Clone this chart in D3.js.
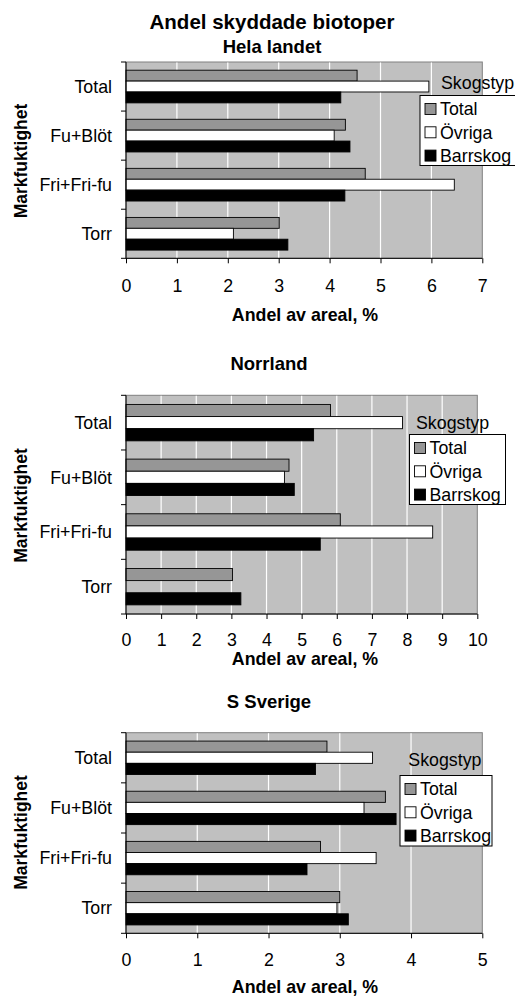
<!DOCTYPE html>
<html>
<head>
<meta charset="utf-8">
<script src="https://cdn.jsdelivr.net/npm/d3@7"></script>
<style>
  body { margin: 0; background: #fff; }
  svg text { font-family: "Liberation Sans", Arial, sans-serif; fill: #000; }
</style>
</head>
<body>
<svg id="chart" width="515" height="998"></svg>
<script>
// カテゴリと系列
const categories = ["Total", "Fu+Blöt", "Fri+Fri-fu", "Torr"];
const seriesNames = ["Total", "Övriga", "Barrskog"];
const seriesColors = ["#969696", "#ffffff", "#000000"];

// Hela landet
const helaTotal = [4.54, 4.31, 4.70, 3.01];
const helaOvriga = [5.95, 4.09, 6.45, 2.11];
const helaBarrskog = [4.22, 4.40, 4.30, 3.18];
const helaTicks = [0, 1, 2, 3, 4, 5, 6, 7];

// Norrland (Övriga saknas för Torr)
const norrTotal = [5.82, 4.64, 6.10, 3.03];
const norrOvriga = [7.87, 4.51, 8.73, null];
const norrBarrskog = [5.34, 4.79, 5.53, 3.27];
const norrTicks = [0, 1, 2, 3, 4, 5, 6, 7, 8, 9, 10];

// S Sverige
const sydTotal = [2.82, 3.64, 2.73, 3.00];
const sydOvriga = [3.46, 3.34, 3.51, 2.96];
const sydBarrskog = [2.66, 3.79, 2.54, 3.12];
const sydTicks = [0, 1, 2, 3, 4, 5];

const svg = d3.select('#chart');
const fs = '17.8px';

// huvudrubrik
svg.append('text')
    .attr('x', 272).attr('y', 22).attr('dy', '0.35em')
    .attr('text-anchor', 'middle')
    .style('font-size', '20.5px').style('font-weight', 'bold')
    .text('Andel skyddade biotoper');

// en panel
function drawPanel(p) {
    const x = d3.scaleLinear()
        .domain([0, d3.max(p.ticks)])
        .range([p.left, p.right]);
    const y = d3.scaleBand()
        .domain(categories)
        .range([p.top, p.bottom])
        .padding(0);
    const sub = d3.scaleBand()
        .domain(seriesNames)
        .range([y.bandwidth() * 0.167, y.bandwidth() * 0.833]);

    const g = svg.append('g');

    // plotyta
    g.append('rect')
        .attr('x', p.left).attr('y', p.top)
        .attr('width', p.right - p.left).attr('height', p.bottom - p.top)
        .attr('fill', '#c0c0c0')
        .attr('stroke', '#808080').attr('stroke-width', 1);

    // stödlinjer
    g.append('g').selectAll('line')
        .data(p.ticks.filter(t => t > 0 && t < d3.max(p.ticks)))
        .enter().append('line')
        .attr('x1', d => x(d)).attr('x2', d => x(d))
        .attr('y1', p.top + 0.5).attr('y2', p.bottom)
        .attr('stroke', '#ffffff').attr('stroke-width', 1.2);

    // staplar
    const rows = categories.map((c, i) => ({
        cat: c,
        vals: p.series.map((s, j) => ({ name: seriesNames[j], color: seriesColors[j], v: s[i] }))
    }));
    const grp = g.append('g').selectAll('g')
        .data(rows).enter().append('g')
        .attr('transform', d => `translate(0,${y(d.cat)})`);
    grp.selectAll('rect')
        .data(d => d.vals.filter(v => v.v != null))
        .enter().append('rect')
        .attr('x', x(0))
        .attr('y', d => sub(d.name))
        .attr('width', d => x(d.v) - x(0))
        .attr('height', sub.bandwidth())
        .attr('fill', d => d.color)
        .attr('stroke', '#000').attr('stroke-width', 0.9);

    // y-axel
    g.append('line')
        .attr('x1', p.left).attr('x2', p.left)
        .attr('y1', p.top).attr('y2', p.bottom)
        .attr('stroke', '#000').attr('stroke-width', 1);
    const yEdges = categories.map(c => y(c)).concat([p.bottom]);
    g.append('g').selectAll('line')
        .data(yEdges).enter().append('line')
        .attr('x1', p.left - 5).attr('x2', p.left)
        .attr('y1', d => d).attr('y2', d => d)
        .attr('stroke', '#000');
    g.append('g').selectAll('text')
        .data(categories).enter().append('text')
        .attr('x', p.left - 14)
        .attr('y', d => y(d) + y.bandwidth() / 2)
        .attr('dy', '0.35em')
        .attr('text-anchor', 'end')
        .style('font-size', fs)
        .text(d => d);

    // x-axel
    const xAxis = d3.axisBottom(x).tickValues(p.ticks).tickSize(5).tickFormat(d3.format('d'));
    const ax = g.append('g')
        .attr('transform', `translate(0,${p.bottom})`)
        .call(xAxis);
    ax.select('.domain').attr('stroke', '#000').attr('d', `M${p.left},0H${p.right}`);
    ax.selectAll('.tick line').attr('stroke', '#000');
    ax.selectAll('.tick text')
        .attr('y', p.tickLabelY - p.bottom).attr('dy', '0.35em')
        .style('font-size', fs)
        .style('font-family', '"Liberation Sans", Arial, sans-serif');

    // axeltitlar
    g.append('text')
        .attr('x', 305).attr('y', p.xTitleY).attr('dy', '0.35em')
        .attr('text-anchor', 'middle')
        .style('font-size', '17.8px').style('font-weight', 'bold')
        .text('Andel av areal, %');
    g.append('text')
        .attr('transform', `translate(21,${p.yTitleY}) rotate(-90)`)
        .attr('dy', '0.35em')
        .attr('text-anchor', 'middle')
        .style('font-size', '17.5px').style('font-weight', 'bold')
        .text('Markfuktighet');

    // panelrubrik
    g.append('text')
        .attr('x', p.titleX).attr('y', p.titleY).attr('dy', '0.35em')
        .attr('text-anchor', 'middle')
        .style('font-size', '18.5px').style('font-weight', 'bold')
        .text(p.title);

    // förklaring
    const lg = p.legend;
    g.append('text')
        .attr('x', lg.labelX).attr('y', lg.labelY).attr('dy', '0.35em')
        .style('font-size', fs)
        .text('Skogstyp');
    g.append('rect')
        .attr('x', lg.x).attr('y', lg.y).attr('width', lg.w).attr('height', lg.h)
        .attr('fill', '#fff').attr('stroke', '#000').attr('stroke-width', 1);
    const items = g.append('g').selectAll('g')
        .data(seriesNames).enter().append('g')
        .attr('transform', (d, i) => `translate(${lg.x + 5},${lg.y + 13.5 + i * 23.3})`);
    items.append('rect')
        .attr('x', 0).attr('y', -5.5).attr('width', 11).attr('height', 11)
        .attr('fill', (d, i) => seriesColors[i])
        .attr('stroke', '#000').attr('stroke-width', 0.9);
    items.append('text')
        .attr('x', 15).attr('y', 0).attr('dy', '0.35em')
        .style('font-size', fs)
        .text(d => d);
}

drawPanel({
    title: 'Hela landet', titleX: 272, titleY: 46.5,
    series: [helaTotal, helaOvriga, helaBarrskog], ticks: helaTicks,
    left: 126, right: 482.3, top: 62, bottom: 258.3,
    tickLabelY: 286, xTitleY: 315, yTitleY: 161,
    legend: { x: 420, y: 95.5, w: 96, h: 70, labelX: 441, labelY: 83 }
});

drawPanel({
    title: 'Norrland', titleX: 269, titleY: 364,
    series: [norrTotal, norrOvriga, norrBarrskog], ticks: norrTicks,
    left: 126, right: 477.3, top: 395.3, bottom: 614,
    tickLabelY: 639.5, xTitleY: 659, yTitleY: 505.5,
    legend: { x: 409.5, y: 434.5, w: 96, h: 70, labelX: 416, labelY: 422.5 }
});

drawPanel({
    title: 'S Sverige', titleX: 269, titleY: 701.7,
    series: [sydTotal, sydOvriga, sydBarrskog], ticks: sydTicks,
    left: 126, right: 482.3, top: 732.7, bottom: 933.3,
    tickLabelY: 960, xTitleY: 986.5, yTitleY: 832.5,
    legend: { x: 400, y: 775.5, w: 92, h: 70.5, labelX: 408.3, labelY: 760 }
});
</script>
</body>
</html>
